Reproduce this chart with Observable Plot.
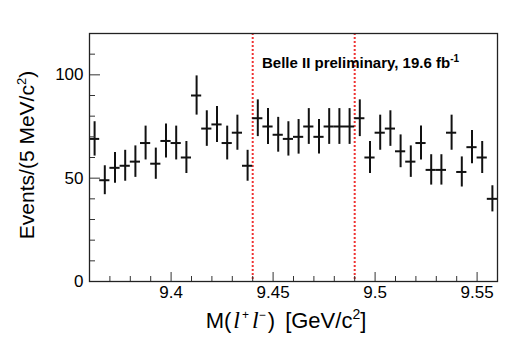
<!DOCTYPE html>
<html>
<head>
<meta charset="utf-8">
<script src="https://cdn.jsdelivr.net/npm/d3@7"></script>
<script src="https://cdn.jsdelivr.net/npm/@observablehq/plot@0.6"></script>
<style>
  html, body { margin: 0; padding: 0; background: #fff; }
  #chart { width: 523px; height: 338px; }
</style>
</head>
<body>
<div id="chart"></div>
<script>
// Bin lower edges in GeV/c^2 (5 MeV bins)
const binLow = [
  9.360, 9.365, 9.370, 9.375, 9.380, 9.385, 9.390, 9.395, 9.400, 9.405,
  9.410, 9.415, 9.420, 9.425, 9.430, 9.435, 9.440, 9.445, 9.450, 9.455,
  9.460, 9.465, 9.470, 9.475, 9.480, 9.485, 9.490, 9.495, 9.500, 9.505,
  9.510, 9.515, 9.520, 9.525, 9.530, 9.535, 9.540, 9.545, 9.550, 9.555
];
const binWidth = 0.005;
// Events per bin
const counts = [
  69, 49, 55, 56, 58, 67, 57, 68, 67, 60,
  90, 74, 76, 67, 72, 56, 79, 75, 71, 69,
  70, 75, 70, 75, 75, 75, 79, 60, 72, 74,
  63, 58, 67, 54, 54, 72, 53, 65, 60, 40
];
// Signal window boundaries (red dashed lines)
const signalWindow = [9.44, 9.49];
// Axis ticks
const xMajorTicks = [9.4, 9.45, 9.5, 9.55];
const xMinorTicks = [9.37, 9.38, 9.39, 9.41, 9.42, 9.43, 9.44, 9.46, 9.47, 9.48, 9.49, 9.51, 9.52, 9.53, 9.54, 9.56];
const yMajorTicks = [0, 50, 100];
const yMinorTicks = [10, 20, 30, 40, 60, 70, 80, 90, 110];

const bins = binLow.map((x1, i) => ({
  x1,
  x2: x1 + binWidth,
  center: x1 + binWidth / 2,
  count: counts[i],
  lo: counts[i] - Math.sqrt(counts[i]),
  hi: counts[i] + Math.sqrt(counts[i])
}));

const plot = Plot.plot({
  width: 523,
  height: 338,
  marginLeft: 89,
  marginRight: 26,
  marginTop: 33,
  marginBottom: 57,
  style: {fontFamily: "'Liberation Sans', Arial, Helvetica, sans-serif", fontSize: "17px", color: "#000", background: "#fff"},
  x: {domain: [9.36, 9.56]},
  y: {domain: [0, 120]},
  marks: [
    Plot.ruleX(signalWindow, {stroke: "#ee3333", strokeWidth: 2, strokeDasharray: "2,2"}),
    Plot.ruleX(bins, {x: "center", y1: "lo", y2: "hi", stroke: "#111", strokeWidth: 2}),
    Plot.ruleY(bins, {y: "count", x1: "x1", x2: "x2", stroke: "#111", strokeWidth: 2}),
    Plot.axisX(xMajorTicks, {tickSize: 0, tickPadding: 4, tickFormat: d => String(d), label: null}),
    Plot.axisX(xMajorTicks, {tickSize: -9, fill: "none", label: null, stroke: "#333"}),
    Plot.axisX(xMinorTicks, {tickSize: -5, fill: "none", label: null, stroke: "#333"}),
    Plot.axisY(yMajorTicks, {tickSize: 0, tickPadding: 6, label: null}),
    Plot.axisY(yMajorTicks, {tickSize: -11, fill: "none", label: null, stroke: "#333"}),
    Plot.axisY(yMinorTicks, {tickSize: -6, fill: "none", label: null, stroke: "#333"}),
    Plot.frame({stroke: "#222", strokeWidth: 1.3})
  ]
});

document.getElementById("chart").appendChild(plot);

const svg = d3.select(plot);
const font = "'Liberation Sans', Arial, Helvetica, sans-serif";
const serif = "'Liberation Serif', 'Times New Roman', serif";

// Annotation
const ann = svg.append("text")
  .attr("x", 262).attr("y", 68).attr("text-anchor", "start")
  .attr("font-family", font).attr("font-size", 15).attr("font-weight", "bold").attr("fill", "#000");
ann.append("tspan").text("Belle II preliminary, 19.6 fb");
ann.append("tspan").attr("dy", -6).attr("font-size", 10).text("-1");

// X axis title
const xt = svg.append("text")
  .attr("x", 286).attr("y", 328).attr("text-anchor", "middle")
  .attr("font-family", font).attr("font-size", 22).attr("fill", "#000");
xt.append("tspan").text("M(");
xt.append("tspan").attr("dx", 2).attr("font-style", "italic").attr("font-family", serif).attr("font-size", 24).text("l");
xt.append("tspan").attr("dx", 2).attr("dy", -9).attr("font-size", 12).text("+");
xt.append("tspan").attr("dx", 3).attr("dy", 9).attr("font-style", "italic").attr("font-family", serif).attr("font-size", 24).text("l");
xt.append("tspan").attr("dy", -9).attr("font-size", 12).text("\u2212");
xt.append("tspan").attr("dx", 2).attr("dy", 9).text(")");
xt.append("tspan").attr("dx", 4).text(" [GeV/c");
xt.append("tspan").attr("dy", -9).attr("font-size", 14).text("2");
xt.append("tspan").attr("dy", 9).text("]");

// Y axis title
const yt = svg.append("text")
  .attr("transform", "translate(34,155) rotate(-90)")
  .attr("text-anchor", "middle")
  .attr("font-family", font).attr("font-size", 21).attr("fill", "#000");
yt.append("tspan").text("Events/(5 MeV/c");
yt.append("tspan").attr("dy", -8).attr("font-size", 13).text("2");
yt.append("tspan").attr("dy", 8).text(")");
</script>
</body>
</html>
